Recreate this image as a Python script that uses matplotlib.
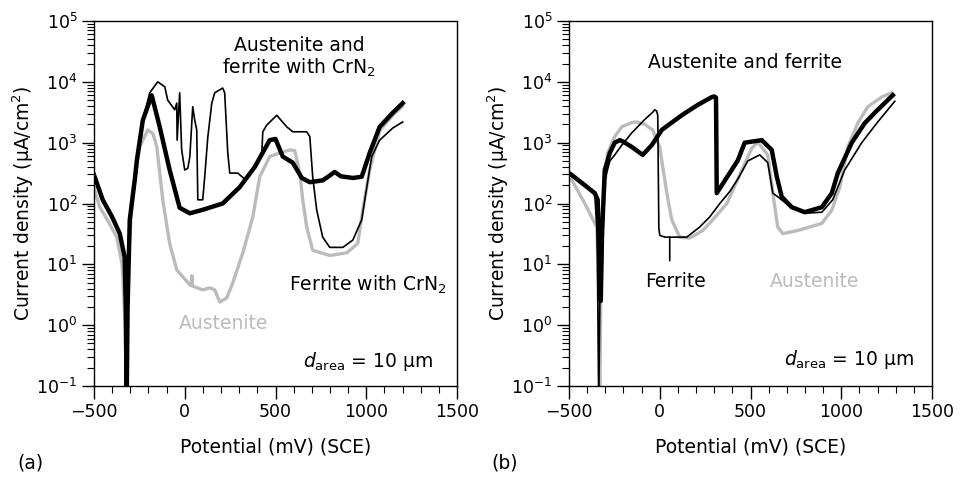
import numpy as np
import matplotlib.pyplot as plt
from matplotlib.ticker import MultipleLocator, LogLocator, NullFormatter

plt.rcParams['font.family'] = ['DejaVu Sans']
plt.rcParams['mathtext.fontset'] = 'dejavusans'

# ---- panel (a) ----
a_gray_E = [-500, -468, -420, -375, -345, -328, -320, -312, -287, -248, -204, -175, -154, -121,
            -83, -44, 28, 35, 39, 42, 99, 138, 165, 193, 231, 264, 320, 375, 413, 468, 523,
            579, 606, 634, 650, 672, 705, 799, 893, 953, 981, 1019, 1074, 1146, 1201]
a_gray_I = [178, 87, 50, 28, 10, 1, 0.05, 10, 148, 850, 1620, 1400, 850, 115,
            22, 8.1, 4.6, 4.5, 6.5, 4.4, 3.8, 4.1, 3.8, 2.4, 2.8, 4.9, 15.5, 60, 275, 590, 680,
            760, 740, 316, 115, 41, 17, 14, 15.5, 22, 78, 355, 1580, 2800, 4000]

a_thick_E = [-500, -452, -400, -358, -331, -325, -320, -315, -303, -275, -264, -231, -182, -138,
             -83, -28, 28, 100, 209, 303, 386, 468, 500, 540, 595, 645, 689, 760, 800, 826,
             860, 926, 975, 1019, 1074, 1146, 1201]
a_thick_I = [295, 115, 60, 32, 13, 2, 0.05, 2, 54, 250, 510, 2340, 6000, 1820,
             355, 85, 69, 79, 100, 186, 400, 1100, 1150, 590, 470, 263, 224, 240, 290, 330,
             280, 263, 275, 680, 1820, 3100, 4470]

a_thin_E = [-500, -452, -400, -358, -331, -325, -320, -315, -303, -275, -264, -231, -193, -149,
            -110, -94, -55, -44, -42, -28, -17, 0, 17, 28, 44, 55, 66, 72, 99, 110, 127, 149,
            165, 209, 220, 237, 248, 292, 331, 386, 425, 430, 452, 507, 562, 595, 672, 689,
            705, 727, 760, 799, 871, 926, 975, 1003, 1030, 1074, 1146, 1201]
a_thin_I = [288, 112, 59, 32, 12.6, 2, 0.05, 2, 56, 251, 501, 2340, 6600, 10000,
            8300, 5000, 3470, 4470, 1100, 6600, 760, 355, 380, 590, 3900, 2340, 1620, 115, 115,
            275, 1230, 4470, 6600, 7900, 6600, 680, 316, 316, 251, 400, 710, 1510, 1950, 2820,
            1820, 1510, 1510, 1260, 275, 78, 28, 19, 19, 25, 54, 186, 590, 1100, 1740, 2190]

# ---- panel (b) ----
b_gray_E = [-500, -485, -413, -347, -335, -331, -325, -310, -287, -248, -209, -154, -127, -83,
            -39, 0, 11, 39, 66, 110, 165, 237, 292, 370, 452, 507, 540, 595, 623, 650, 678,
            760, 893, 948, 992, 1036, 1091, 1146, 1223, 1278]
b_gray_I = [251, 245, 100, 41, 3.2, 0.05, 3.2, 100, 680, 1260, 1820, 2140, 2190, 2000,
            1620, 850, 510, 148, 54, 28, 27, 36, 54, 100, 355, 810, 1020, 630, 148, 41, 32,
            36, 47, 78, 186, 850, 2090, 3890, 5620, 6600]

b_thick_E = [-500, -485, -413, -358, -342, -332, -325, -318, -303, -275, -248, -220, -204, -154,
             -94, -44, 11, 121, 209, 287, 300, 310, 314, 342, 430, 468, 562, 617, 645, 672,
             727, 799, 893, 948, 981, 1058, 1129, 1201, 1284]
b_thick_I = [316, 295, 200, 148, 115, 10, 2.5, 32, 355, 680, 1000, 1100, 1050, 850,
             630, 910, 1620, 2820, 4170, 5620, 5750, 5500, 148, 200, 510, 1000, 1100, 760, 275,
             129, 87, 72, 87, 148, 316, 1000, 2090, 3470, 6030]

b_thin_E = [-500, -413, -358, -345, -336, -328, -310, -275, -248, -209, -154, -83, -39, -28,
            -17, -11, -5, 0, 28, 55, 121, 149, 220, 275, 331, 386, 430, 485, 551, 595, 623,
            650, 727, 799, 893, 953, 1019, 1113, 1201, 1295]
b_thin_I = [300, 190, 141, 32, 0.05, 10, 200, 500, 630, 910, 1450, 2400, 3160, 3470,
            3310, 2820, 40, 30, 28, 28, 28, 28, 41, 60, 100, 158, 251, 500, 630, 470, 148,
            129, 85, 69, 72, 115, 355, 1000, 2190, 4790]

gray = '#bbbbbb'
fig = plt.figure(figsize=(9.61, 4.78), dpi=100)
W, H = 961.0, 478.0
ax1 = fig.add_axes([94 / W, 1 - 386 / H, 363 / W, 365 / H])
ax2 = fig.add_axes([569 / W, 1 - 386 / H, 363 / W, 365 / H])


def style(ax):
    ax.set_yscale('log')
    ax.set_xlim(-500, 1500)
    ax.set_ylim(0.1, 1e5)
    ax.set_xticks([-500, 0, 500, 1000, 1500])
    ax.xaxis.set_minor_locator(MultipleLocator(100))
    ax.yaxis.set_major_locator(LogLocator(base=10, numticks=10))
    ax.yaxis.set_minor_locator(LogLocator(base=10, subs=np.arange(2, 10), numticks=20))
    ax.yaxis.set_minor_formatter(NullFormatter())
    ax.tick_params(which='major', direction='out', length=9, width=1, labelsize=12.5, pad=3)
    ax.tick_params(which='minor', direction='out', length=5, width=0.8)
    ax.tick_params(top=False, right=False, which='both')
    for s in ax.spines.values():
        s.set_linewidth(1)
    ax.set_xlabel('Potential (mV) (SCE)', fontsize=13.5, labelpad=12)
    ax.set_ylabel('Current density (μA/cm$^2$)', fontsize=13.5, labelpad=0)


for ax in (ax1, ax2):
    style(ax)

ax1.plot(a_gray_E, a_gray_I, color=gray, lw=2.4, solid_joinstyle='round')
ax1.plot(a_thick_E, a_thick_I, color='black', lw=3.2, solid_joinstyle='round')
ax1.plot(a_thin_E, a_thin_I, color='black', lw=1.2)

ax2.plot(b_gray_E, b_gray_I, color=gray, lw=2.4, solid_joinstyle='round')
ax2.plot(b_thin_E, b_thin_I, color='black', lw=1.2)
ax2.plot(b_thick_E, b_thick_I, color='black', lw=3.2, solid_joinstyle='round')

ax1.text(630, 10**4.4, 'Austenite and\nferrite with CrN$_2$', ha='center', va='center',
         fontsize=13.5, linespacing=1.1)
ax1.text(1010, 10**0.66, 'Ferrite with CrN$_2$', ha='center', va='center', fontsize=13.5)
ax1.text(215, 10**0.03, 'Austenite', ha='center', va='center', fontsize=13.5, color=gray)
ax1.text(1010, 10**-0.6, r'$d_{\mathrm{area}}$ = 10 μm', ha='center', va='center', fontsize=13.5)

ax2.text(470, 10**4.31, 'Austenite and ferrite', ha='center', va='center', fontsize=13.5)
ax2.text(85, 10**0.72, 'Ferrite', ha='center', va='center', fontsize=13.5)
ax2.annotate('', xy=(55, 28), xytext=(55, 11.5),
             arrowprops=dict(arrowstyle='-', lw=1.2, color='black', shrinkA=0, shrinkB=0))
ax2.text(855, 10**0.72, 'Austenite', ha='center', va='center', fontsize=13.5, color=gray)
ax2.text(1045, 10**-0.57, r'$d_{\mathrm{area}}$ = 10 μm', ha='center', va='center', fontsize=13.5)

fig.text(30 / W, 1 - 463 / H, '(a)', ha='center', va='center', fontsize=13.5)
fig.text(505 / W, 1 - 463 / H, '(b)', ha='center', va='center', fontsize=13.5)

fig.savefig('out.png', dpi=100)
